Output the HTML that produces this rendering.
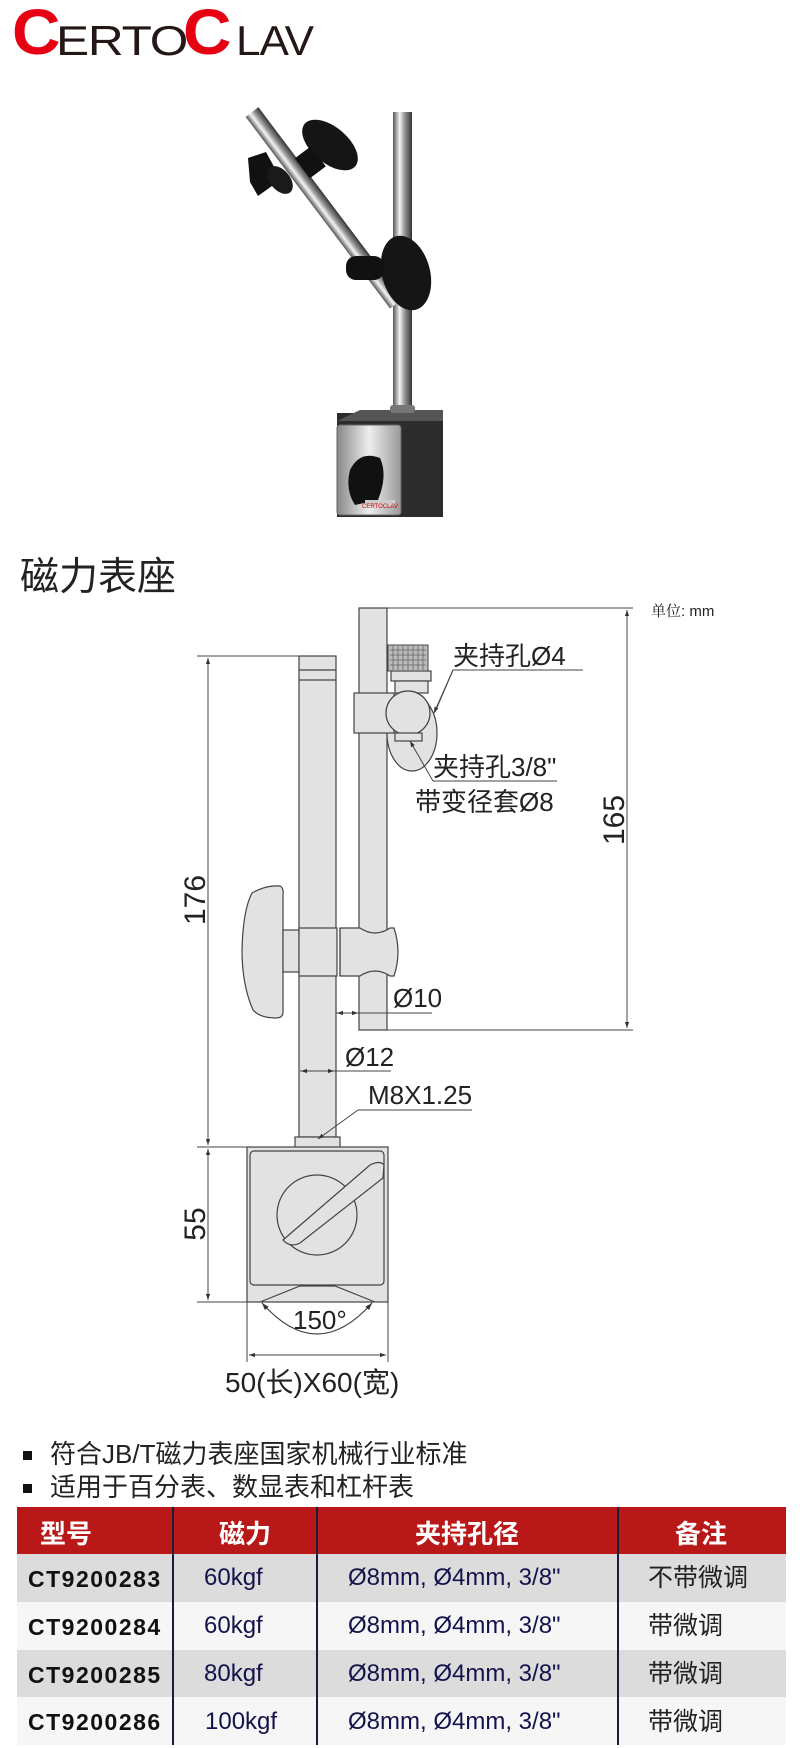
<!DOCTYPE html>
<html><head><meta charset="utf-8"><style>
html,body{margin:0;padding:0;background:#fff;}
body{width:800px;height:1748px;position:relative;overflow:hidden;font-family:"Liberation Sans","Noto Sans CJK SC",sans-serif;}
.abs{position:absolute;white-space:nowrap;}
</style></head><body>
<!-- logo -->
<div class="abs" style="left:12px;top:0px;font-size:64px;font-weight:bold;color:#e60012;line-height:1;transform:scaleX(1.05);transform-origin:left">C</div>
<div class="abs" style="left:56px;top:20px;font-size:42px;color:#231815;line-height:1;letter-spacing:-1px;transform:scaleX(1.18);transform-origin:left">ERTO</div>
<div class="abs" style="left:183px;top:0px;font-size:64px;font-weight:bold;color:#e60012;line-height:1;transform:scaleX(1.05);transform-origin:left">C</div>
<div class="abs" style="left:236px;top:20px;font-size:42px;color:#231815;line-height:1;letter-spacing:-1px;transform:scaleX(1.05);transform-origin:left">LAV</div>

<svg class="abs" style="left:0;top:0" width="800" height="1748" viewBox="0 0 800 1748">
<defs>
<linearGradient id="chrome" x1="0" x2="1" y1="0" y2="0">
<stop offset="0" stop-color="#555"/><stop offset="0.35" stop-color="#f4f4f4"/><stop offset="0.6" stop-color="#999"/><stop offset="1" stop-color="#333"/>
</linearGradient>
<linearGradient id="plate" x1="0" x2="1"><stop offset="0" stop-color="#888"/><stop offset="0.5" stop-color="#eee"/><stop offset="1" stop-color="#999"/></linearGradient>
<marker id="ar" viewBox="0 0 10 10" refX="10" refY="5" markerWidth="8" markerHeight="6" orient="auto-start-reverse"><path d="M0,1.5 L10,5 L0,8.5 z" fill="#333"/></marker>
</defs>
<!-- photo -->
<rect x="393" y="112" width="19" height="305" fill="url(#chrome)"/>
<g transform="translate(252,112) rotate(-37)"><rect x="-8" y="0" width="16" height="240" fill="url(#chrome)"/></g>
<rect x="337" y="413" width="106" height="104" fill="#2c2c2c"/>
<polygon points="337,421 360,410 443,410 443,421" fill="#555"/>
<rect x="337" y="425" width="64" height="90" rx="3" fill="url(#plate)" stroke="#666"/>
<path d="M350,470 Q360,450 380,458 Q388,475 378,500 L355,505 Q345,490 350,470z" fill="#111"/>
<rect x="365" y="500" width="30" height="6" fill="#ccc"/>
<text x="362" y="508" font-size="6" fill="#d00">CERTOCLAV</text>
<rect x="390" y="405" width="25" height="8" rx="3" fill="#777"/>
<ellipse cx="330" cy="145" rx="33" ry="18" transform="rotate(40 330 145)" fill="#151515"/>
<rect x="300" y="150" width="20" height="25" transform="rotate(-37 310 162)" fill="#111"/>
<path d="M248,158 l18,-6 l12,22 l-6,12 l-14,10 l-8,-14 z" fill="#111"/>
<ellipse cx="280" cy="180" rx="16" ry="10" transform="rotate(50 280 180)" fill="#1a1a1a"/>
<ellipse cx="406" cy="273" rx="24" ry="38" transform="rotate(-15 406 273)" fill="#151515"/>
<rect x="346" y="256" width="38" height="24" rx="10" fill="#111"/>

<!-- drawing -->
<g stroke="#444" stroke-width="1.2" fill="#e2e2e2">
<rect x="359" y="608" width="28" height="422"/>
<rect x="299" y="656" width="37" height="481"/>
<line x1="299" y1="670" x2="336" y2="670"/><line x1="299" y1="680" x2="336" y2="680"/>
<ellipse cx="412" cy="733" rx="25" ry="38"/>
<rect x="391" y="671" width="40" height="10"/>
<rect x="395" y="681" width="33" height="12"/>
<rect x="354" y="693" width="40" height="40"/>
<circle cx="408" cy="713" r="22"/>
<rect x="395" y="733" width="27" height="8"/>
<path d="M252,893 Q266,885 280,886 Q284,888 283,895 L283,1012 Q283,1018 276,1018 Q260,1018 253,1010 Q242,985 242,950 Q243,910 252,893z"/>
<rect x="283" y="930" width="16" height="42"/>
<rect x="299" y="928" width="38" height="48"/>
<path d="M340,928 L360,928 Q375,938 390,928 L394,928 Q398,940 398,952 Q398,964 394,976 L390,976 Q375,966 360,976 L340,976 z"/>
<line x1="340" y1="928" x2="340" y2="976"/>
<rect x="295" y="1137" width="45" height="11"/>
<rect x="247" y="1147" width="141" height="155"/>
<rect x="250" y="1151" width="134" height="134" rx="4"/>
<circle cx="317" cy="1215" r="40"/>
<path d="M283,1240 L370,1165 Q380,1160 384,1165 L383,1178 L300,1243 Q290,1248 283,1240z"/>
</g>
<rect x="250" y="1287" width="134" height="14" fill="#e2e2e2"/>
<g stroke="#444" stroke-width="1.2" fill="none">
<polyline points="260,1302 300,1286 335,1286 375,1302"/>
<path d="M262,1303 Q317,1365 372,1303" marker-start="url(#ar)" marker-end="url(#ar)"/>
</g>
<g stroke="#444" stroke-width="1" fill="none">
<line x1="197" y1="656" x2="336" y2="656"/>
<line x1="197" y1="1147" x2="247" y2="1147"/>
<line x1="197" y1="1302" x2="388" y2="1302"/>
<line x1="208" y1="658" x2="208" y2="1145" marker-start="url(#ar)" marker-end="url(#ar)"/>
<line x1="208" y1="1149" x2="208" y2="1300" marker-start="url(#ar)" marker-end="url(#ar)"/>
<line x1="387" y1="608" x2="633" y2="608"/>
<line x1="387" y1="1030" x2="633" y2="1030"/>
<line x1="627" y1="610" x2="627" y2="1028" marker-start="url(#ar)" marker-end="url(#ar)"/>
<line x1="247" y1="1302" x2="247" y2="1362"/>
<line x1="388" y1="1302" x2="388" y2="1362"/>
<line x1="249" y1="1355" x2="386" y2="1355" marker-start="url(#ar)" marker-end="url(#ar)"/>
<line x1="336" y1="1013" x2="432" y2="1013"/>
<line x1="350" y1="1013" x2="337" y2="1013" marker-end="url(#ar)"/>
<line x1="345" y1="1013" x2="358" y2="1013" marker-end="url(#ar)"/>
<line x1="300" y1="1071" x2="391" y2="1071"/>
<line x1="315" y1="1071" x2="301" y2="1071" marker-end="url(#ar)"/>
<line x1="320" y1="1071" x2="334" y2="1071" marker-end="url(#ar)"/>
<polyline points="583,670 453,670 435,712" /><line x1="453" y1="670" x2="434" y2="713" marker-end="url(#ar)"/>
<line x1="433" y1="781" x2="557" y2="781"/><line x1="433" y1="781" x2="410" y2="741" marker-end="url(#ar)"/>
<line x1="358" y1="1110" x2="472" y2="1110"/><line x1="358" y1="1110" x2="318" y2="1139" marker-end="url(#ar)"/>
</g>
<rect x="388" y="645" width="40" height="26" fill="#bbb" stroke="#444"/>
<g stroke="#666" stroke-width="0.8">
<path d="M390,650h36M390,655h36M390,660h36M390,665h36M393,646v24M398,646v24M403,646v24M408,646v24M413,646v24M418,646v24M423,646v24"/>
</g>
<g fill="#222" font-family="'Liberation Sans','Noto Sans CJK SC',sans-serif">
<text x="453" y="665" font-size="26">夹持孔Ø4</text>
<text x="433" y="776" font-size="26">夹持孔3/8"</text>
<text x="415" y="811" font-size="26">带变径套Ø8</text>
<text x="393" y="1007" font-size="26">Ø10</text>
<text x="345" y="1066" font-size="26">Ø12</text>
<text x="368" y="1104" font-size="26">M8X1.25</text>
<text x="293" y="1329" font-size="26">150°</text>
<text x="225" y="1392" font-size="28">50(长)X60(宽)</text>
<text transform="translate(624,820) rotate(-90)" text-anchor="middle" font-size="30">165</text>
<text transform="translate(205,900) rotate(-90)" text-anchor="middle" font-size="30">176</text>
<text transform="translate(205,1224) rotate(-90)" text-anchor="middle" font-size="30">55</text>
</g>
</svg>

<div class="abs" style="left:20px;top:546px;font-size:39px;color:#222;">磁力表座</div>
<div class="abs" style="left:651px;top:600px;font-size:15px;color:#222;font-family:'Liberation Serif','Noto Serif CJK SC',serif;">单位<span style="font-family:'Liberation Sans',sans-serif">: mm</span></div>

<div class="abs" style="left:23px;top:1451px;width:9px;height:9px;background:#111"></div>
<div class="abs" style="left:50px;top:1439px;font-size:26px;color:#222;line-height:30px">符合JB/T磁力表座国家机械行业标准</div>
<div class="abs" style="left:23px;top:1484px;width:9px;height:9px;background:#111"></div>
<div class="abs" style="left:50px;top:1472px;font-size:26px;color:#222;line-height:30px">适用于百分表、数显表和杠杆表</div>

<div class="abs" style="left:17px;top:1507px;width:769px;height:47px;background:#b91818"></div>
<div class="abs" style="left:17px;top:1554px;width:769px;height:48px;background:#dcdcdc"></div>
<div class="abs" style="left:17px;top:1602px;width:769px;height:48px;background:#f6f6f6"></div>
<div class="abs" style="left:17px;top:1650px;width:769px;height:47px;background:#dcdcdc"></div>
<div class="abs" style="left:17px;top:1697px;width:769px;height:48px;background:#f6f6f6"></div>
<div class="abs" style="left:172px;top:1507px;width:2px;height:238px;background:#1c1c3a"></div>
<div class="abs" style="left:316px;top:1507px;width:2px;height:238px;background:#1c1c3a"></div>
<div class="abs" style="left:617px;top:1507px;width:2px;height:238px;background:#1c1c3a"></div>

<div class="abs" style="left:40px;top:1514px;font-size:26px;font-weight:bold;color:#fff">型号</div>
<div class="abs" style="left:219px;top:1514px;font-size:26px;font-weight:bold;color:#fff">磁力</div>
<div class="abs" style="left:415px;top:1514px;font-size:26px;font-weight:bold;color:#fff">夹持孔径</div>
<div class="abs" style="left:675px;top:1514px;font-size:26px;font-weight:bold;color:#fff">备注</div>

<div class="abs" style="left:28px;top:1564px;font-size:23px;font-weight:bold;color:#111;line-height:30px;letter-spacing:1.5px">CT9200283</div>
<div class="abs" style="left:28px;top:1612px;font-size:23px;font-weight:bold;color:#111;line-height:30px;letter-spacing:1.5px">CT9200284</div>
<div class="abs" style="left:28px;top:1660px;font-size:23px;font-weight:bold;color:#111;line-height:30px;letter-spacing:1.5px">CT9200285</div>
<div class="abs" style="left:28px;top:1707px;font-size:23px;font-weight:bold;color:#111;line-height:30px;letter-spacing:1.5px">CT9200286</div>

<div class="abs" style="left:204px;top:1563px;font-size:24px;color:#14124a;line-height:30px">60kgf</div>
<div class="abs" style="left:204px;top:1611px;font-size:24px;color:#14124a;line-height:30px">60kgf</div>
<div class="abs" style="left:204px;top:1659px;font-size:24px;color:#14124a;line-height:30px">80kgf</div>
<div class="abs" style="left:205px;top:1707px;font-size:24px;color:#14124a;line-height:30px">100kgf</div>

<div class="abs" style="left:348px;top:1563px;font-size:24px;color:#14124a;line-height:30px">Ø8mm, Ø4mm, 3/8"</div>
<div class="abs" style="left:348px;top:1611px;font-size:24px;color:#14124a;line-height:30px">Ø8mm, Ø4mm, 3/8"</div>
<div class="abs" style="left:348px;top:1659px;font-size:24px;color:#14124a;line-height:30px">Ø8mm, Ø4mm, 3/8"</div>
<div class="abs" style="left:348px;top:1707px;font-size:24px;color:#14124a;line-height:30px">Ø8mm, Ø4mm, 3/8"</div>

<div class="abs" style="left:648px;top:1563px;font-size:25px;color:#222;line-height:30px">不带微调</div>
<div class="abs" style="left:648px;top:1611px;font-size:25px;color:#222;line-height:30px">带微调</div>
<div class="abs" style="left:648px;top:1659px;font-size:25px;color:#222;line-height:30px">带微调</div>
<div class="abs" style="left:648px;top:1707px;font-size:25px;color:#222;line-height:30px">带微调</div>
</body></html>
